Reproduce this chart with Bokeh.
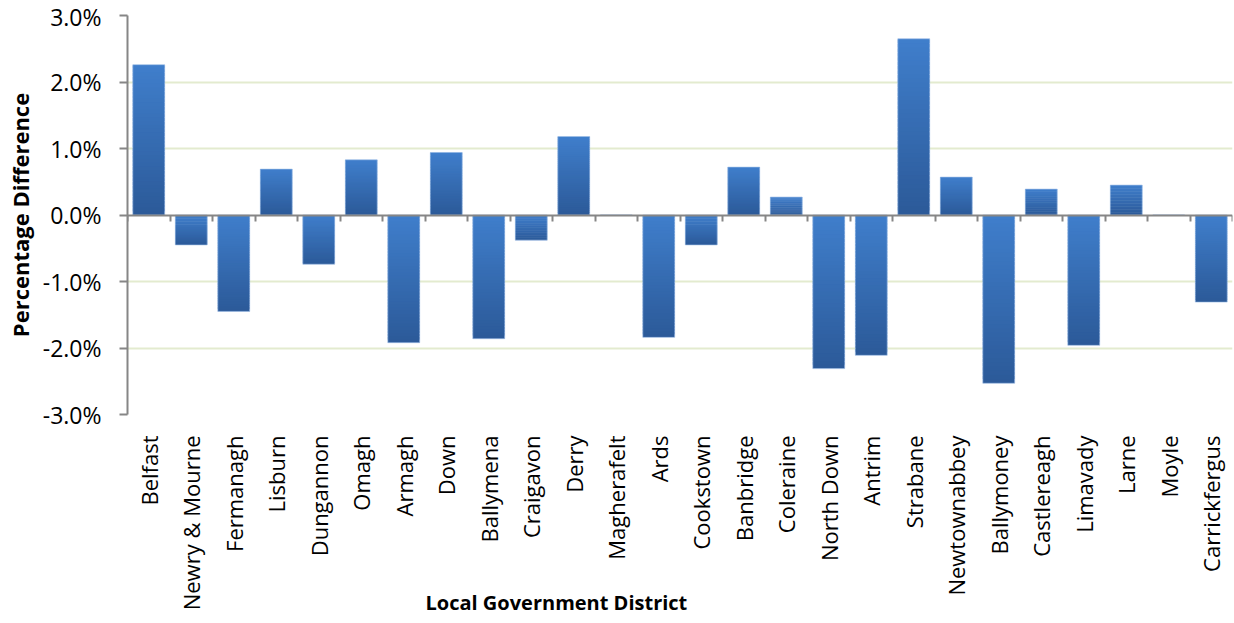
import math
from bokeh.plotting import figure
from bokeh.models import (Range1d, LinearAxis, FixedTicker, PrintfTickFormatter,
                          Title, Grid, ColumnDataSource)
from bokeh.embed import file_html
from bokeh.resources import INLINE

districts = ["Belfast", "Newry & Mourne", "Fermanagh", "Lisburn", "Dungannon", "Omagh",
             "Armagh", "Down", "Ballymena", "Craigavon", "Derry", "Magherafelt", "Ards",
             "Cookstown", "Banbridge", "Coleraine", "North Down", "Antrim", "Strabane",
             "Newtownabbey", "Ballymoney", "Castlereagh", "Limavady", "Larne", "Moyle",
             "Carrickfergus"]
pct_diff = [2.26, -0.45, -1.45, 0.69, -0.74, 0.83, -1.92, 0.94, -1.86, -0.38, 1.18, 0.0,
            -1.84, -0.45, 0.72, 0.27, -2.31, -2.11, 2.65, 0.57, -2.53, 0.39, -1.96, 0.45,
            0.0, -1.31]
y_ticks = [-3, -2, -1, 0, 1, 2, 3]

FONT = "Open Sans"
n = len(districts)
centers = list(range(1, n + 1))
bounds = [c - 0.5 for c in centers] + [n + 0.5]

p = figure(width=1234, height=623, x_range=Range1d(0.5, n + 0.5), y_range=Range1d(-3, 3),
           output_backend="svg", toolbar_location=None, x_axis_type=None, y_axis_type=None,
           min_border_left=127, min_border_right=2, min_border_top=15, min_border_bottom=209)
p.outline_line_color = None
p.background_fill_color = "white"

# y axis
yaxis = LinearAxis(ticker=FixedTicker(ticks=y_ticks),
                   formatter=PrintfTickFormatter(format="%.1f%%"),
                   axis_label="Percentage Difference")
yaxis.axis_line_color = "#868686"
yaxis.axis_line_width = 2
yaxis.major_tick_line_color = "#868686"
yaxis.major_tick_line_width = 2
yaxis.major_tick_out = 8
yaxis.major_tick_in = 0
yaxis.minor_tick_line_color = None
yaxis.major_label_standoff = 18
yaxis.major_label_text_font = FONT
yaxis.major_label_text_font_size = "23px"
yaxis.major_label_text_color = "black"
yaxis.axis_label_text_font = FONT
yaxis.axis_label_text_font_style = "bold"
yaxis.axis_label_text_font_size = "22px"
yaxis.axis_label_text_color = "black"
yaxis.axis_label_standoff = 5
p.add_layout(yaxis, "left")

grid = Grid(dimension=1, ticker=FixedTicker(ticks=[t for t in y_ticks if t != 0]))
grid.grid_line_color = "#E3EBCF"
grid.grid_line_width = 2
p.add_layout(grid)

# category labels axis
xlab = LinearAxis(ticker=FixedTicker(ticks=centers),
                  major_label_overrides={c: d for c, d in zip(centers, districts)})
xlab.axis_line_color = None
xlab.major_tick_line_color = None
xlab.minor_tick_line_color = None
xlab.major_label_orientation = math.pi / 2
xlab.major_label_standoff = 15
xlab.major_label_text_font = FONT
xlab.major_label_text_font_size = "22px"
xlab.major_label_text_color = "black"
p.add_layout(xlab, "below")

# bars with vertical gradient (dark at bottom, light at top)
light = (0x3F, 0x7E, 0xCB)
dark = (0x2C, 0x5A, 0x99)
N = 40
xs, bots, tops, cols = [], [], [], []
for c, v in zip(centers, pct_diff):
    lo, hi = min(0, v), max(0, v)
    if hi == lo:
        continue
    for k in range(N):
        t = k / (N - 1)
        rgb = tuple(int(round(dark[j] + (light[j] - dark[j]) * t)) for j in range(3))
        xs.append(c)
        bots.append(lo + (hi - lo) * k / N)
        tops.append(min(hi, lo + (hi - lo) * (k + 1.8) / N))
        cols.append("#%02x%02x%02x" % rgb)
src = ColumnDataSource(dict(x=xs, bottom=bots, top=tops, color=cols))
p.vbar(x="x", bottom="bottom", top="top", width=0.75, source=src,
       fill_color="color", line_color=None)
# faint light outline around each bar
p.vbar(x=centers, bottom=0, top=pct_diff, width=0.75, fill_color=None,
       line_color="#9DBCE6", line_alpha=0.6, line_width=1)

# zero axis with category boundary ticks
zaxis = LinearAxis(ticker=FixedTicker(ticks=bounds), fixed_location=0)
zaxis.axis_line_color = "#868686"
zaxis.axis_line_width = 2
zaxis.major_tick_line_color = "#868686"
zaxis.major_tick_line_width = 2
zaxis.major_tick_in = 6
zaxis.major_tick_out = 0
zaxis.minor_tick_line_color = None
zaxis.major_label_text_font_size = "0px"
zaxis.major_label_text_color = None
p.add_layout(zaxis, "above")

title_x = Title(text="Local Government District", align="left", offset=298, standoff=-50,
                vertical_align="top",
                text_font=FONT, text_font_style="bold", text_font_size="20px",
                text_color="black")
p.add_layout(title_x, "below")

open("out.html", "w").write(file_html(p, INLINE))
